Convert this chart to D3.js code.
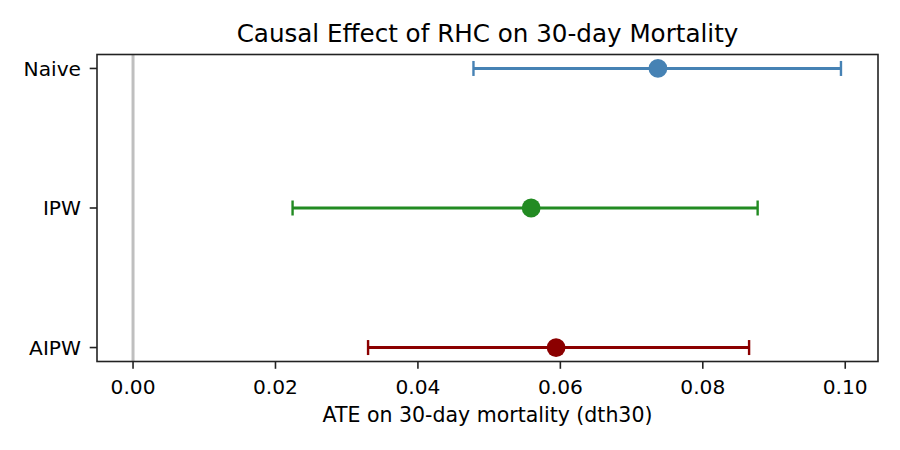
<!DOCTYPE html>
<html><head><meta charset="utf-8">
<script src="https://cdn.jsdelivr.net/npm/d3@7"></script>
<style>body{margin:0;background:#fff}svg{display:block}text{font-family:"DejaVu Sans",sans-serif;fill:#000}</style>
</head><body>
<svg id="c" width="900" height="450"></svg>
<script>
const methods = ["Naive", "IPW", "AIPW"];
const estimates = [0.0737, 0.0559, 0.0594];
const lower = [0.0478, 0.0224, 0.0330];
const upper = [0.0994, 0.0877, 0.0865];
const colors = ["#4682b4", "#228b22", "#8b0000"];
const xTicks = [0.00, 0.02, 0.04, 0.06, 0.08, 0.10];
const title = "Causal Effect of RHC on 30-day Mortality";
const xLabel = "ATE on 30-day mortality (dth30)";

const svg = d3.select("#c");
const L = 97, R = 878, T = 54.5, B = 361.5;
const x = d3.scaleLinear().domain([-0.00506, 0.1046]).range([L, R]);
const y = d3.scaleLinear().domain([-0.1, 2.1]).range([B, T]);
const yPos = i => y(methods.length - 1 - i);

// zero line
svg.append("line").attr("x1", x(0)).attr("x2", x(0)).attr("y1", T).attr("y2", B)
  .attr("stroke", "#bfbfbf").attr("stroke-width", 3);

const g = svg.append("g");
methods.forEach((m, i) => {
  const yy = yPos(i);
  g.append("line").attr("x1", x(lower[i])).attr("x2", x(upper[i])).attr("y1", yy).attr("y2", yy)
    .attr("stroke", colors[i]).attr("stroke-width", 3);
  [lower[i], upper[i]].forEach(v => {
    g.append("line").attr("x1", x(v)).attr("x2", x(v)).attr("y1", yy - 7.5).attr("y2", yy + 7.5)
      .attr("stroke", colors[i]).attr("stroke-width", 2.4);
  });
  g.append("circle").attr("cx", x(estimates[i])).attr("cy", yy).attr("r", 9.4).attr("fill", colors[i]);
});

// spines
svg.append("rect").attr("x", L).attr("y", T).attr("width", R - L).attr("height", B - T)
  .attr("fill", "none").attr("stroke", "#222").attr("stroke-width", 1.6);

// x axis ticks
xTicks.forEach(t => {
  svg.append("line").attr("x1", x(t)).attr("x2", x(t)).attr("y1", B).attr("y2", B + 7.3)
    .attr("stroke", "#222").attr("stroke-width", 1.6);
  svg.append("text").attr("x", x(t)).attr("y", B + 32).attr("text-anchor", "middle")
    .attr("font-size", 20.2).text(d3.format(".2f")(t));
});
// y axis ticks
methods.forEach((m, i) => {
  const yy = yPos(i);
  svg.append("line").attr("x1", L - 7.3).attr("x2", L).attr("y1", yy).attr("y2", yy)
    .attr("stroke", "#222").attr("stroke-width", 1.6);
  svg.append("text").attr("x", L - 16).attr("y", yy).attr("dy", "0.36em").attr("text-anchor", "end")
    .attr("font-size", 20.2).text(m);
});

svg.append("text").attr("x", (L + R) / 2).attr("y", 421.5).attr("text-anchor", "middle")
  .attr("font-size", 20.5).text(xLabel);
svg.append("text").attr("x", (L + R) / 2).attr("y", 41.7).attr("text-anchor", "middle")
  .attr("font-size", 24.6).text(title);
</script>
</body></html>
